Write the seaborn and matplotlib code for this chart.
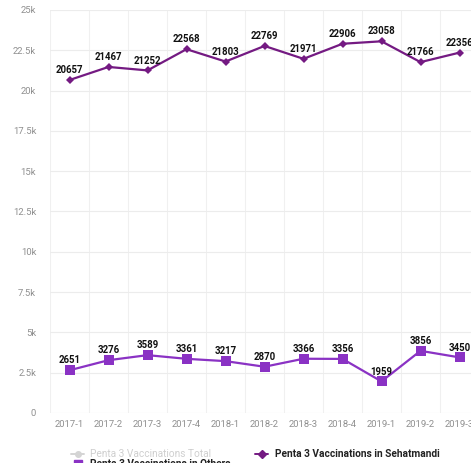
import matplotlib
matplotlib.use("Agg")
import matplotlib.pyplot as plt
from matplotlib.lines import Line2D
from matplotlib.ticker import FixedLocator, FuncFormatter
import seaborn as sns
import pandas as pd

quarters = ["2017-1", "2017-2", "2017-3", "2017-4", "2018-1", "2018-2",
            "2018-3", "2018-4", "2019-1", "2019-2", "2019-3"]
sehatmandi = [20657, 21467, 21252, 22568, 21803, 22769, 21971, 22906, 23058, 21766, 22356]
others = [2651, 3276, 3589, 3361, 3217, 2870, 3366, 3356, 1959, 3856, 3450]
y_ticks = [0, 2500, 5000, 7500, 10000, 12500, 15000, 17500, 20000, 22500, 25000]

sns.set_theme(style="white")
plt.rcParams["font.family"] = ["Roboto", "DejaVu Sans"]

col_seh = "#741a82"
col_oth = "#8a32c4"

df = pd.DataFrame({"quarter": quarters, "pos": range(len(quarters)),
                   "Sehatmandi": sehatmandi, "Others": others})

fig = plt.figure(figsize=(4.71, 4.63), dpi=100)
ax = fig.add_axes([50 / 471, 50 / 463, 429 / 471, 403 / 463])

sns.lineplot(data=df, x="pos", y="Sehatmandi", ax=ax, color=col_seh,
             marker="D", markersize=4.5, markeredgewidth=0, linewidth=1.6)
sns.lineplot(data=df, x="pos", y="Others", ax=ax, color=col_oth,
             marker="s", markersize=6.5, markeredgewidth=0, linewidth=1.6)

for series in (sehatmandi, others):
    for i, v in enumerate(series):
        ax.annotate(str(v), (i, v), xytext=(0, 3.5), textcoords="offset points",
                    ha="center", va="bottom", fontsize=6.9, fontweight="bold",
                    color="#111111")

ax.set_xlim(-0.5, len(quarters) - 0.5)
ax.set_ylim(0, 25000)
ax.set_xticks(range(len(quarters)))
ax.set_xticklabels(quarters)
ax.xaxis.set_minor_locator(FixedLocator([i - 0.5 for i in range(len(quarters) + 1)]))
ax.yaxis.set_major_locator(FixedLocator(y_ticks))
ax.yaxis.set_major_formatter(FuncFormatter(
    lambda v, _: "0" if v == 0 else (f"{v / 1000:g}k")))
ax.grid(False)
ax.grid(axis="y", which="major", color="#ececec", linewidth=0.8)
ax.grid(axis="x", which="minor", color="#f0f0f0", linewidth=0.8)
ax.set_axisbelow(True)
for s in ax.spines.values():
    s.set_visible(False)
ax.tick_params(axis="both", which="both", length=0, labelsize=6.8,
               labelcolor="#8f8f8f")
ax.tick_params(axis="x", pad=5)
ax.tick_params(axis="y", pad=10)
ax.set_xlabel("")
ax.set_ylabel("")

handles = [
    Line2D([0], [0], color="#d4d4d4", marker="o", markersize=4, linewidth=1.4),
    Line2D([0], [0], color=col_oth, marker="s", markersize=6, linewidth=1.4),
    Line2D([0], [0], color=col_seh, marker="D", markersize=4, linewidth=1.4),
]
labels = ["Penta 3 Vaccinations Total", "Penta 3 Vaccinations in Others",
          "Penta 3 Vaccinations in Sehatmandi"]
leg = fig.legend(handles, labels, ncol=2, loc="upper left",
                 bbox_to_anchor=(66 / 471, 1 - 444 / 463), frameon=False,
                 fontsize=7.3, handlelength=1.3, handletextpad=0.6,
                 columnspacing=2.4, labelspacing=0.0, borderpad=0)
texts = leg.get_texts()
texts[0].set_color("#cfcfcf")
for t in texts[1:]:
    t.set_color("#222222")
    t.set_fontweight("bold")

fig.savefig("out.png", dpi=100)
